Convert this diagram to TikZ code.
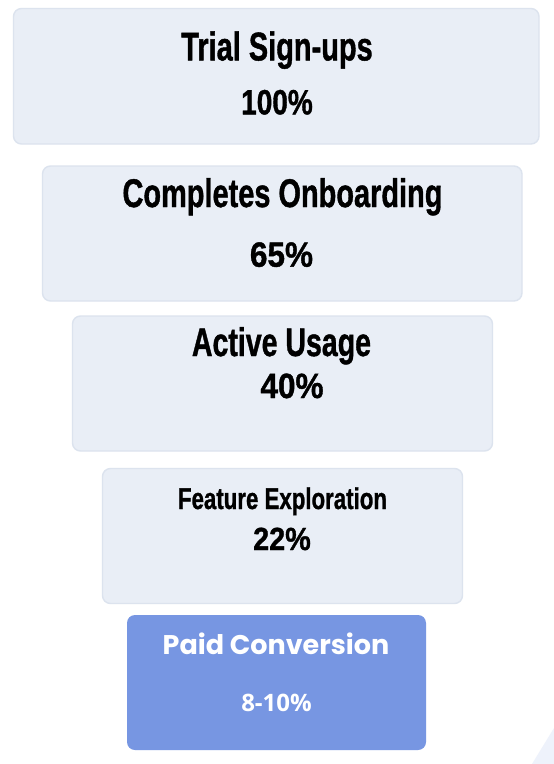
\documentclass[tikz,border=0pt]{standalone}
\usepackage{fontspec}
\usepackage{graphicx}
\setmainfont{Liberation Sans}
\newfontfamily\heavyfont{Liberation Sans}[FakeBold=1.2]
\newfontfamily\popfont{Poppins}
\newfontfamily\opfont{Open Sans}
\newcommand{\sqtext}[3]{\scalebox{#2}[1]{\heavyfont\fontsize{#1}{#1}\selectfont\bfseries #3}}
\definecolor{boxfill}{HTML}{E9EEF6}
\definecolor{boxline}{HTML}{DCE3EE}
\definecolor{paidfill}{HTML}{7796E2}
\definecolor{cornerfill}{HTML}{EEF2FB}
\tikzset{
  stage/.style={draw=boxline, line width=1.4pt, fill=boxfill, rounded corners=8pt},
  paid/.style={fill=paidfill, rounded corners=8pt},
  lbl/.style={inner sep=0pt, outer sep=0pt, anchor=base, text=black},
  wlbl/.style={inner sep=0pt, outer sep=0pt, anchor=base, text=white}
}
\begin{document}
\begin{tikzpicture}[x=1pt, y=-1pt]
\useasboundingbox (0,0) rectangle (554,764);
\fill[white] (0,0) rectangle (554,764);
% faint corner shape
\fill[cornerfill] (554,728) -- (532,764) -- (554,764) -- cycle;
% boxes
\path[stage] (13.5,8.5) rectangle (539,144) coordinate (b1);
\path[stage] (42.5,166) rectangle (522,301) coordinate (b2);
\path[stage] (72.5,316) rectangle (492.5,451) coordinate (b3);
\path[stage] (102.5,468.5) rectangle (462.5,603.5) coordinate (b4);
\path[paid] (127,615) rectangle (426,750) coordinate (b5);
% labels
\node[lbl] (t1) at (277,60.4) {\sqtext{40}{0.724}{Trial Sign-ups}};
\node[lbl] (p1) at (277,114.3) {\sqtext{35}{0.80}{100\%}};
\node[lbl] (t2) at (282.5,207) {\sqtext{40}{0.7235}{Completes Onboarding}};
\node[lbl] (p2) at (281.5,266.7) {\sqtext{35}{0.90}{65\%}};
\node[lbl] (t3) at (281.5,356) {\sqtext{40}{0.713}{Active Usage}};
\node[lbl] (p3) at (292,398) {\sqtext{35}{0.90}{40\%}};
\node[lbl] (t4) at (282.5,509) {\sqtext{30}{0.742}{Feature Exploration}};
\node[lbl] (p4) at (282,550) {\sqtext{32}{0.90}{22\%}};
\node[wlbl] (t5) at (276,654) {\popfont\fontsize{27}{27}\selectfont\bfseries Paid Conversion};
\node[wlbl] (p5) at (276.5,711) {\opfont\fontsize{24}{24}\selectfont\bfseries 8-10\%};
\end{tikzpicture}
\end{document}
